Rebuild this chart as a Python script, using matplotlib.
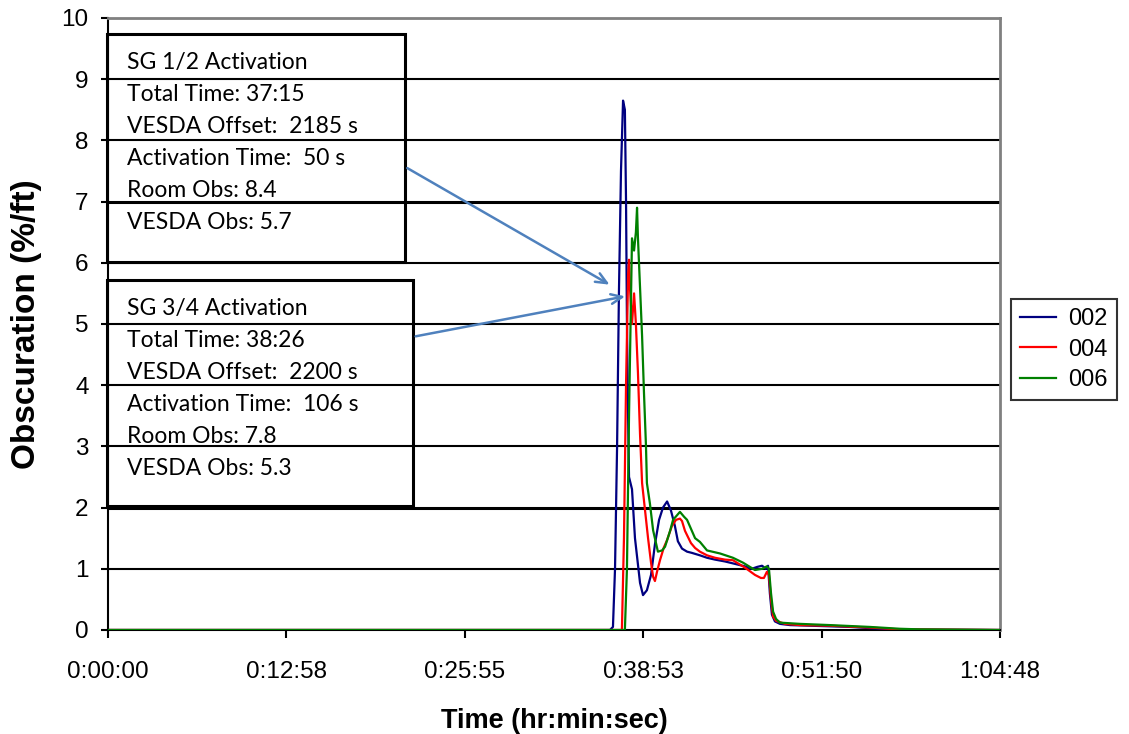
import matplotlib
matplotlib.use('Agg')
import matplotlib.pyplot as plt
from matplotlib.patches import Rectangle

# elapsed time (s) and obscuration (%/ft) for each detector
t_002 = [0, 2188, 2201, 2210, 2219, 2227, 2236, 2245, 2253, 2258, 2262, 2267, 2271,
         2284, 2297, 2319, 2332, 2349, 2367, 2384, 2402, 2419, 2437, 2454, 2471,
         2484, 2502, 2524, 2545, 2580, 2611, 2646, 2689, 2733, 2776, 2807, 2829,
         2851, 2868, 2877, 2885, 2894, 2907, 2929, 2973, 3060, 3234, 3365, 3452, 3888]
obs_002 = [0, 0, 0.05, 1.0, 3.0, 5.5, 7.5, 8.65, 8.5, 7.0, 5.0, 3.5, 2.5,
           2.3, 1.5, 0.77, 0.57, 0.65, 0.9, 1.4, 1.8, 2.0, 2.1, 1.95, 1.7,
           1.45, 1.33, 1.28, 1.26, 1.22, 1.18, 1.15, 1.12, 1.08, 1.04, 1.0, 1.03,
           1.05, 1.0, 1.05, 0.6, 0.25, 0.14, 0.1, 0.08, 0.07, 0.05, 0.02, 0.01, 0]

t_004 = [0, 2240, 2249, 2258, 2267, 2271, 2275, 2284, 2293, 2301, 2310, 2319, 2328,
         2341, 2354, 2367, 2376, 2384, 2393, 2406, 2423, 2437, 2458, 2476, 2493,
         2502, 2515, 2524, 2541, 2559, 2580, 2611, 2646, 2689, 2724, 2776, 2820,
         2846, 2859, 2872, 2881, 2890, 2899, 2912, 2951, 3016, 3147, 3321, 3452, 3888]
obs_004 = [0, 0, 1.5, 4.0, 5.8, 6.05, 5.6, 5.0, 5.5, 5.0, 4.2, 3.2, 2.4,
           1.95, 1.5, 1.1, 0.87, 0.8, 0.95, 1.14, 1.35, 1.47, 1.7, 1.8, 1.82,
           1.78, 1.62, 1.55, 1.42, 1.34, 1.28, 1.22, 1.18, 1.15, 1.14, 1.02, 0.9,
           0.85, 0.85, 0.95, 0.9, 0.5, 0.22, 0.15, 0.1, 0.08, 0.07, 0.04, 0.01, 0]

t_006 = [0, 2253, 2262, 2271, 2280, 2284, 2293, 2301, 2306, 2310, 2319, 2328, 2336,
         2345, 2349, 2362, 2376, 2397, 2415, 2428, 2450, 2463, 2493, 2511, 2524,
         2559, 2580, 2611, 2668, 2724, 2768, 2820, 2851, 2872, 2881, 2890, 2899,
         2912, 2929, 3016, 3147, 3321, 3452, 3539, 3888]
obs_006 = [0, 0, 1.0, 3.5, 5.5, 6.4, 6.2, 6.5, 6.9, 6.4, 5.6, 4.8, 3.9,
           3.0, 2.4, 2.07, 1.63, 1.28, 1.3, 1.36, 1.62, 1.8, 1.93, 1.85, 1.8,
           1.5, 1.44, 1.3, 1.25, 1.18, 1.1, 0.98, 1.0, 1.04, 1.0, 0.6, 0.3,
           0.18, 0.12, 0.1, 0.08, 0.05, 0.02, 0.01, 0]

x_ticks = [0, 777.6, 1555.2, 2332.8, 3110.4, 3888]
x_tick_labels = ['0:00:00', '0:12:58', '0:25:55', '0:38:53', '0:51:50', '1:04:48']

box_12 = ['SG 1/2 Activation', 'Total Time: 37:15', 'VESDA Offset:  2185 s',
          'Activation Time:  50 s', 'Room Obs: 8.4', 'VESDA Obs: 5.7']
box_34 = ['SG 3/4 Activation', 'Total Time: 38:26', 'VESDA Offset:  2200 s',
          'Activation Time:  106 s', 'Room Obs: 7.8', 'VESDA Obs: 5.3']

sans = ['Liberation Sans', 'DejaVu Sans']
box_font = ['Lato', 'DejaVu Sans']

fig = plt.figure(figsize=(11.29, 7.34), dpi=100, facecolor='white')
ax = fig.add_axes([0.0957, 0.1417, 0.7900, 0.8338])

# horizontal grid
for v in range(1, 11):
    ax.axhline(v, color='black', lw=2.2 if v in (2, 7) else 1.5, zorder=1)

ax.plot(t_002, obs_002, color='#000080', lw=1.6, label='002', zorder=3)
ax.plot(t_004, obs_004, color='#FF0000', lw=1.6, label='004', zorder=3)
ax.plot(t_006, obs_006, color='#008000', lw=1.6, label='006', zorder=3)

ax.set_xlim(0, 3888)
ax.set_ylim(0, 10)
ax.set_xticks(x_ticks)
ax.set_xticklabels(x_tick_labels, family=sans, fontsize=17.5)
ax.set_yticks(range(0, 11))
ax.set_yticklabels([str(v) for v in range(0, 11)], family=sans, fontsize=17.5)
ax.tick_params(axis='x', length=6, width=1.5, pad=16)
ax.tick_params(axis='y', length=5, width=1.5, pad=9)

for side in ('top', 'right'):
    ax.spines[side].set_color('#808080')
    ax.spines[side].set_linewidth(2)
for side in ('left', 'bottom'):
    ax.spines[side].set_color('black')
    ax.spines[side].set_linewidth(1.5)

ax.set_xlabel('Time (hr:min:sec)', family=sans, fontsize=19.5, fontweight='bold', labelpad=18)
ax.set_ylabel('Obscuration (%/ft)', family=sans, fontsize=24, fontweight='bold', labelpad=14)

# annotation boxes (unfilled, grid shows through)
for lines, (x0, y0, x1, y1) in [(box_12, (-0.001, 0.601, 0.333, 0.974)),
                                (box_34, (-0.001, 0.203, 0.342, 0.572))]:
    ax.add_patch(Rectangle((x0, y0), x1 - x0, y1 - y0, transform=ax.transAxes,
                           facecolor='none', edgecolor='black', lw=2.2,
                           clip_on=False, zorder=4))
    for i, s in enumerate(lines):
        ax.text(0.0213, y1 - 0.046 - i * 0.0525, s, transform=ax.transAxes,
                family=box_font, fontsize=16.5, va='center', ha='left', zorder=5)

arrow = dict(arrowstyle='->,head_length=0.8,head_width=0.35', color='#4F81BD', lw=1.8)
ax.annotate('', xy=(2197, 5.62), xytext=(1294, 7.57), arrowprops=arrow, zorder=5)
ax.annotate('', xy=(2266, 5.46), xytext=(1329, 4.79), arrowprops=arrow, zorder=5)

leg = ax.legend(loc='upper left', bbox_to_anchor=(1011 / 1129, 1 - 299 / 734),
                bbox_transform=fig.transFigure, frameon=True, fancybox=False,
                edgecolor='black', handlelength=1.5, handletextpad=0.5,
                borderpad=0.4, borderaxespad=0, labelspacing=0.35,
                prop={'family': sans, 'size': 17})
leg.get_frame().set_linewidth(1.5)

fig.savefig('out.png', dpi=100, facecolor='white')
